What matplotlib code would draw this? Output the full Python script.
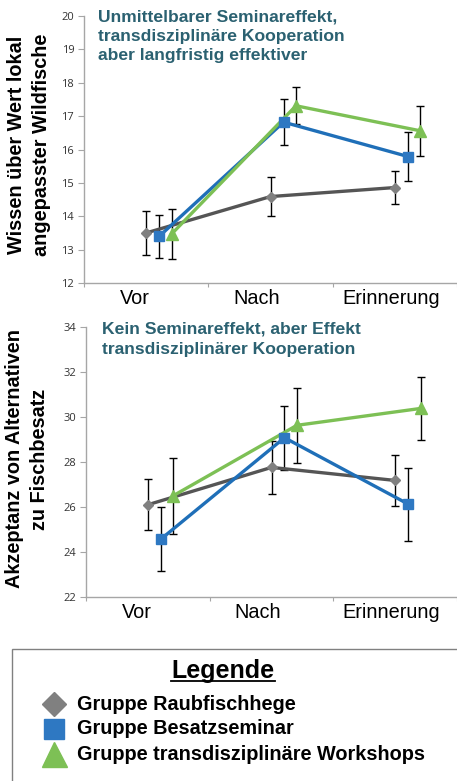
import numpy as np
import matplotlib
matplotlib.use('Agg')
import matplotlib.pyplot as plt
from matplotlib.lines import Line2D
from matplotlib.patches import Rectangle

# ── data ──────────────────────────────────────────────────────────────────────
phases = ['Vor', 'Nach', 'Erinnerung']
groups = ['Gruppe Raubfischhege', 'Gruppe Besatzseminar',
          'Gruppe transdisziplinäre Workshops']

wissen_mean = {
    'Gruppe Raubfischhege': [13.50, 14.59, 14.86],
    'Gruppe Besatzseminar': [13.40, 16.82, 15.79],
    'Gruppe transdisziplinäre Workshops': [13.47, 17.31, 16.56],
}
wissen_err = {
    'Gruppe Raubfischhege': [0.65, 0.59, 0.49],
    'Gruppe Besatzseminar': [0.65, 0.68, 0.74],
    'Gruppe transdisziplinäre Workshops': [0.75, 0.56, 0.74],
}
akzeptanz_mean = {
    'Gruppe Raubfischhege': [26.10, 27.76, 27.18],
    'Gruppe Besatzseminar': [24.57, 29.08, 26.13],
    'Gruppe transdisziplinäre Workshops': [26.50, 29.63, 30.38],
}
akzeptanz_err = {
    'Gruppe Raubfischhege': [1.13, 1.19, 1.12],
    'Gruppe Besatzseminar': [1.42, 1.42, 1.62],
    'Gruppe transdisziplinäre Workshops': [1.69, 1.67, 1.39],
}

# ── style ─────────────────────────────────────────────────────────────────────
line_col = {groups[0]: '#555555', groups[1]: '#1F6FB8', groups[2]: '#7DC055'}
mark_col = {groups[0]: '#808080', groups[1]: '#2E78C2', groups[2]: '#7DC055'}
markers = {groups[0]: 'D', groups[1]: 's', groups[2]: '^'}
msize = {groups[0]: 5.4, groups[1]: 7.5, groups[2]: 8.0}
offset = {groups[0]: 0.5, groups[1]: 0.605, groups[2]: 0.705}
TEAL = '#2B6171'
AXC = '#A6A6A6'
BOLD = dict(family='Liberation Sans', weight='bold')

W, H = 457, 781
fig = plt.figure(figsize=(W / 100, H / 100), dpi=100)


def px(x, y):
    return x / W, 1 - y / H


def panel(rect, means, errs, ylim, yticks):
    ax = fig.add_axes(rect)
    x = np.arange(len(phases))
    for g in groups:
        xs = x + offset[g]
        ax.errorbar(xs, means[g], yerr=errs[g], fmt='none', ecolor='black',
                    elinewidth=1, capsize=2.9, capthick=1, zorder=2)
        ax.plot(xs, means[g], color=line_col[g], lw=2.4, zorder=3)
        ax.plot(xs, means[g], ls='none', marker=markers[g], ms=msize[g],
                color=mark_col[g], mec=mark_col[g], zorder=4)
    ax.set_xlim(0, 3)
    ax.set_ylim(*ylim)
    ax.set_yticks(yticks)
    ax.set_xticks([0, 1, 2, 3])
    ax.set_xticklabels([])
    ax.set_xticks([0.41, 1.39, 2.47], minor=True)
    ax.set_xticklabels(phases, minor=True, fontsize=14.3,
                       family='Liberation Sans')
    ax.tick_params(axis='x', which='minor', length=0, pad=4)
    ax.tick_params(axis='x', which='major', length=3, color=AXC)
    ax.tick_params(axis='y', length=4, color=AXC, labelsize=8,
                   labelcolor='#333333', pad=3)
    for lab in ax.get_yticklabels():
        lab.set_family('Open Sans')
    for s in ['top', 'right']:
        ax.spines[s].set_visible(False)
    for s in ['left', 'bottom']:
        ax.spines[s].set_color(AXC)
        ax.spines[s].set_linewidth(1)
    ax.set_facecolor('none')
    return ax


ax1 = panel([84 / W, 1 - 283 / H, 373 / W, 267 / H], wissen_mean, wissen_err,
            (12, 20), range(12, 21))
ax2 = panel([86 / W, 1 - 597 / H, 371 / W, 270 / H], akzeptanz_mean,
            akzeptanz_err, (22, 34), range(22, 35, 2))

# y labels
fig.text(*px(29, 145), 'Wissen über Wert lokal\nangepasster Wildfische',
         rotation=90, ha='center', va='center', multialignment='center',
         fontsize=14.3, linespacing=1.35, **BOLD)
fig.text(*px(27, 459), 'Akzeptanz von Alternativen\nzu Fischbesatz',
         rotation=90, ha='center', va='center', multialignment='center',
         fontsize=14.3, linespacing=1.35, **BOLD)

# panel notes
fig.text(*px(98, 9), 'Unmittelbarer Seminareffekt,\ntransdisziplinäre Kooperation\n'
         'aber langfristig effektiver', ha='left', va='top', color=TEAL,
         fontsize=12.6, linespacing=1.38, **BOLD)
fig.text(*px(102, 322), 'Kein Seminareffekt, aber Effekt\ntransdisziplinärer Kooperation',
         ha='left', va='top', color=TEAL, fontsize=12.6, linespacing=1.38, **BOLD)

# legend box
fig.add_artist(Rectangle(px(12, 790), (W + 20) / W, 141 / H, transform=fig.transFigure,
                         fill=False, ec='#808080', lw=1))
title = fig.text(*px(223, 671), 'Legende', ha='center', va='center',
                 fontsize=18, **BOLD)
fig.canvas.draw()
bb = title.get_window_extent()
uy = (bb.y0 + 2) / H
fig.add_artist(Line2D([bb.x0 / W, bb.x1 / W], [uy, uy], transform=fig.transFigure,
                      color='black', lw=1.3))

leg_ms = {groups[0]: 12.3, groups[1]: 14.4, groups[2]: 18}
for g, yy in zip(groups, [704, 729, 754]):
    fx, fy = px(54, yy)
    fig.add_artist(Line2D([fx], [fy], transform=fig.transFigure, ls='none',
                          marker=markers[g], ms=leg_ms[g], color=mark_col[g]))
    fig.text(*px(77, yy), g, ha='left', va='center', fontsize=14.3, **BOLD)

fig.savefig('out.png', dpi=100)
